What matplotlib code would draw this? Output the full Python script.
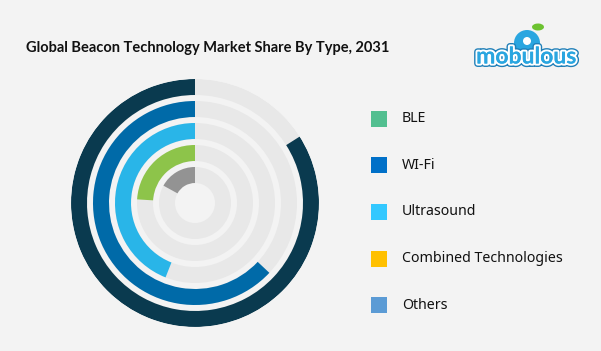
import numpy as np
import matplotlib
matplotlib.use("Agg")
import matplotlib.pyplot as plt
from matplotlib.patches import Rectangle, Ellipse
import matplotlib.patheffects as pe

# ---- data ----
ring_names = ["Outer", "Second", "Third", "Fourth", "Inner"]
ring_values = [84, 63, 44, 24, 17]          # share of full circle (%)
ring_colors = ["#0a3a4f", "#006aa8", "#29b5e8", "#8dc44a", "#939393"]
legend_labels = ["BLE", "WI-Fi", "Ultrasound", "Combined Technologies", "Others"]
legend_colors = ["#52bf90", "#0070c8", "#33c8ff", "#ffc000", "#5b9bd5"]
title = "Global Beacon Technology Market Share By Type, 2031"

BG = "#f3f3f3"
TRACK = "#e8e8e8"
W, H = 601, 351

fig = plt.figure(figsize=(W / 100, H / 100), dpi=100, facecolor=BG)

# polar axes: center (195, 203) px from top, radius 124 px
cx, cy, R = 195, 203, 124
ax = fig.add_axes([(cx - R) / W, (H - cy - R) / H, 2 * R / W, 2 * R / H],
                  projection="polar")
ax.set_facecolor("none")
ax.set_theta_zero_location("N")
ax.set_theta_direction(1)
ax.set_ylim(0, R)
ax.set_axis_off()

thick = 16
inner_radii = [108, 86, 64, 42, 20]
for val, col, r0 in zip(ring_values, ring_colors, inner_radii):
    ax.bar(0, thick, width=2 * np.pi, bottom=r0, align="edge",
           color=TRACK, edgecolor="none", linewidth=0)
    ax.bar(0, thick, width=val / 100 * 2 * np.pi, bottom=r0, align="edge",
           color=col, edgecolor="none", linewidth=0)

# title
fig.text(26 / W, 1 - 48 / H, title, fontsize=10.5, fontweight="bold",
         family="Lato", color="#111111", va="center", ha="left")

# legend
sq = 16
for i, (lab, col) in enumerate(zip(legend_labels, legend_colors)):
    yc = 118.7 + i * 46.6
    fig.patches.append(Rectangle((371 / W, 1 - (yc + sq / 2) / H), sq / W, sq / H,
                                 transform=fig.transFigure, facecolor=col,
                                 edgecolor="none"))
    fig.text(402 / W, 1 - yc / H, lab, fontsize=10.2, family="Noto Sans",
             color="#111111", va="center", ha="left")

# logo
fig.patches.append(Ellipse((527 / W, 1 - 43 / H), 26 / W, 26 / H,
                           transform=fig.transFigure, facecolor="#2aa6e0",
                           edgecolor="none"))
fig.patches.append(Ellipse((527 / W, 1 - 41 / H), 8 / W, 8 / H,
                           transform=fig.transFigure, facecolor="white",
                           edgecolor="none"))
fig.patches.append(Ellipse((538 / W, 1 - 27 / H), 12 / W, 7 / H, angle=30,
                           transform=fig.transFigure, facecolor="#6cc230",
                           edgecolor="none"))
fig.text(526 / W, 1 - 57 / H, "mobulous", fontsize=16.5, fontweight="bold",
         family="Lato", color="#2aa6e0", ha="center", va="center",
         path_effects=[pe.withStroke(linewidth=5, foreground="#1f7fb8"),
                       pe.withStroke(linewidth=3, foreground="white"),
                       pe.Normal()])

fig.savefig("out.png", dpi=100, facecolor=BG)
